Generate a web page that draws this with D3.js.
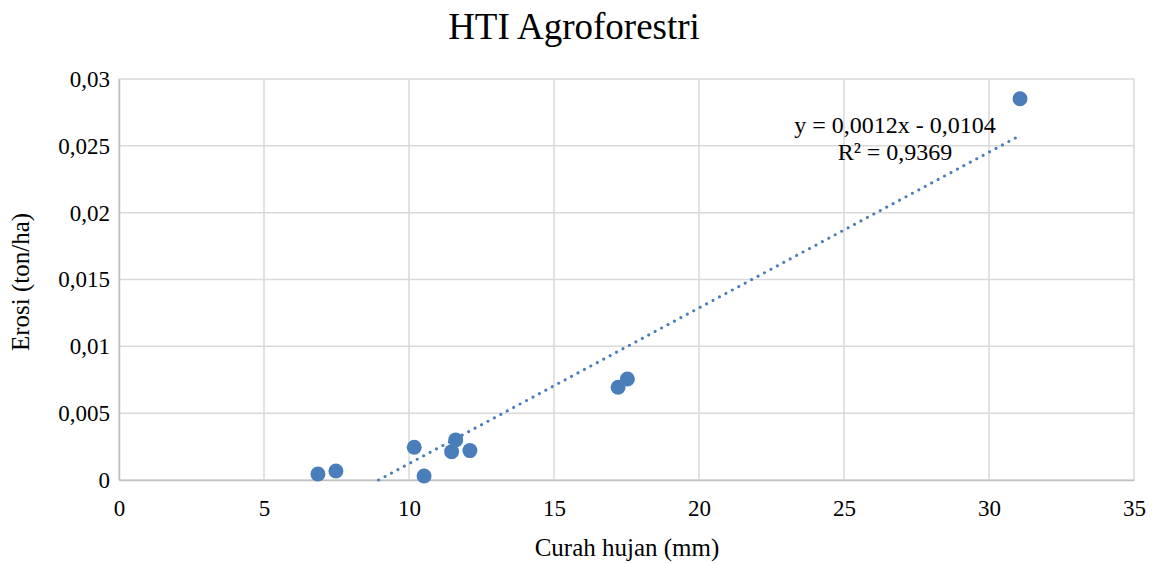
<!DOCTYPE html>
<html>
<head>
<meta charset="utf-8">
<script src="https://cdn.jsdelivr.net/npm/d3@7"></script>
<style>
  body { margin: 0; background: #fff; }
  svg text { font-family: "Liberation Serif", "Times New Roman", serif; fill: #000; }
</style>
</head>
<body>
<div id="chart"></div>
<script>
// data
var curahHujan = [6.86, 7.48, 10.18, 10.52, 11.47, 11.61, 12.1, 17.21, 17.53, 31.07];
var erosi = [0.00045, 0.00067, 0.00245, 0.0003, 0.00212, 0.003, 0.0022, 0.00694, 0.00756, 0.02852];
var xTicks = [0, 5, 10, 15, 20, 25, 30, 35];
var yTicks = [0, 0.005, 0.01, 0.015, 0.02, 0.025, 0.03];
var trendText = ["y = 0,0012x - 0,0104", "R² = 0,9369"];

var width = 1155, height = 564;
var margin = {top: 79, right: 20, bottom: 84, left: 119};

var svg = d3.select("#chart").append("svg")
    .attr("width", width)
    .attr("height", height);

var x = d3.scaleLinear().domain([0, 35]).range([margin.left, 1134]);
var y = d3.scaleLinear().domain([0, 0.03]).range([480, margin.top]);

var comma = function(d){ return String(d).replace(".", ","); };

// gridlines
svg.append("g").selectAll("line").data(xTicks).enter().append("line")
    .attr("x1", function(d){ return x(d); }).attr("x2", function(d){ return x(d); })
    .attr("y1", y(0)).attr("y2", y(0.03))
    .attr("stroke", "#d9d9d9").attr("stroke-width", 1.5);
svg.append("g").selectAll("line").data(yTicks).enter().append("line")
    .attr("x1", x(0)).attr("x2", x(35))
    .attr("y1", function(d){ return y(d); }).attr("y2", function(d){ return y(d); })
    .attr("stroke", "#d9d9d9").attr("stroke-width", 1.5);

// axes
var xAxis = d3.axisBottom(x).tickValues(xTicks).tickSize(0).tickPadding(20).tickFormat(comma);
var gx = svg.append("g").attr("transform", "translate(0,480)").call(xAxis);
var yAxis = d3.axisLeft(y).tickValues(yTicks).tickSize(0).tickPadding(9).tickFormat(comma);
var gy = svg.append("g").attr("transform", "translate(" + margin.left + ",0)").call(yAxis);
[gx, gy].forEach(function(g){
    g.select(".domain").attr("stroke", "#bfbfbf").attr("stroke-width", 1.5);
    g.selectAll("text").style("font-size", "23px").style("font-family", "Liberation Serif");
});

// linear trendline (least squares) clipped to the plot area
var mx = d3.mean(curahHujan), my = d3.mean(erosi);
var sxy = d3.sum(curahHujan, function(v, i){ return (v - mx) * (erosi[i] - my); });
var sxx = d3.sum(curahHujan, function(v){ return (v - mx) * (v - mx); });
var slope = sxy / sxx, intercept = my - slope * mx;
var x0 = Math.max(d3.min(curahHujan), -intercept / slope), x1 = d3.max(curahHujan);

svg.append("line")
    .attr("x1", x(x0)).attr("y1", y(slope * x0 + intercept))
    .attr("x2", x(x1)).attr("y2", y(slope * x1 + intercept))
    .attr("stroke", "#4a7ebb").attr("stroke-width", 3)
    .attr("stroke-linecap", "round").attr("stroke-dasharray", "0.1 7.2");

// points
svg.append("g").selectAll("circle").data(curahHujan).enter().append("circle")
    .attr("cx", function(d){ return x(d); })
    .attr("cy", function(d, i){ return y(erosi[i]); })
    .attr("r", 7.5)
    .attr("fill", "#4a7ebb");

// trendline label
svg.append("g").selectAll("text").data(trendText).enter().append("text")
    .attr("x", 895).attr("y", function(d, i){ return 133 + i * 27; })
    .attr("text-anchor", "middle").style("font-size", "24px")
    .text(function(d){ return d; });

// titles
svg.append("text").attr("x", 574).attr("y", 39).attr("text-anchor", "middle")
    .style("font-size", "37px").text("HTI Agroforestri");
svg.append("text").attr("x", 627).attr("y", 556).attr("text-anchor", "middle")
    .style("font-size", "25px").text("Curah hujan (mm)");
svg.append("text").attr("transform", "translate(29,282) rotate(-90)").attr("text-anchor", "middle")
    .style("font-size", "25px").text("Erosi (ton/ha)");
</script>
</body>
</html>
